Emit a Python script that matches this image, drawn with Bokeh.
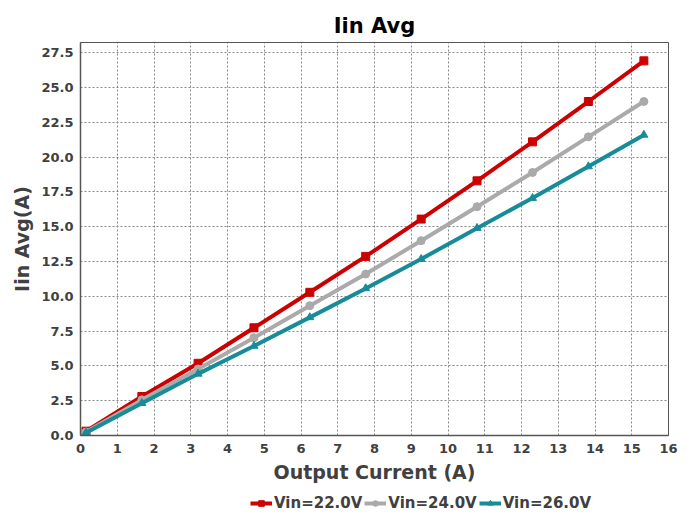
from bokeh.plotting import figure
from bokeh.layouts import column
from bokeh.models import Legend, LegendItem, Range1d, FixedTicker, NumeralTickFormatter
from bokeh.embed import file_html
from bokeh.resources import INLINE

x_current = [0.15, 1.67, 3.2, 4.72, 6.24, 7.76, 9.27, 10.79, 12.3, 13.82, 15.33]
vin22 = [0.31, 2.8, 5.19, 7.74, 10.29, 12.87, 15.55, 18.3, 21.1, 24.0, 26.92]
vin24 = [0.25, 2.56, 4.78, 7.02, 9.33, 11.6, 14.0, 16.44, 18.9, 21.46, 24.0]
vin26 = [0.2, 2.32, 4.43, 6.43, 8.49, 10.57, 12.68, 14.9, 17.06, 19.33, 21.6]
series_names = ["Vin=22.0V", "Vin=24.0V", "Vin=26.0V"]
x_ticks = list(range(0, 17))
y_ticks = [0, 2.5, 5, 7.5, 10, 12.5, 15, 17.5, 20, 22.5, 25, 27.5]

FONT = "DejaVu Sans"
TXT = "#404040"
colors = ["#CC0000", "#AAAAAA", "#178C99"]
markers = ["square", "circle", "triangle"]
series = [vin22, vin24, vin26]

p = figure(width=696, height=490, output_backend="svg", toolbar_location=None,
           x_range=Range1d(0, 16), y_range=Range1d(0, 28.24),
           min_border_left=80, min_border_right=28, min_border_top=42, min_border_bottom=55,
           title="Iin Avg")
p.title.align = "center"
p.title.text_font = FONT
p.title.text_font_size = "21px"
p.title.text_font_style = "bold"
p.title.text_color = "black"

p.xaxis.ticker = FixedTicker(ticks=x_ticks)
p.yaxis.ticker = FixedTicker(ticks=y_ticks)
p.yaxis.formatter = NumeralTickFormatter(format="0.0")
for ax in (p.xaxis, p.yaxis):
    ax.major_label_text_font = FONT
    ax.major_label_text_font_size = "13px"
    ax.major_label_text_font_style = "bold"
    ax.major_label_text_color = TXT
    ax.axis_label_text_font = FONT
    ax.axis_label_text_font_size = "19px"
    ax.axis_label_text_font_style = "bold"
    ax.axis_label_text_color = TXT
    ax.axis_line_color = "#555555"
    ax.axis_line_width = 1.5
    ax.major_tick_line_color = None
    ax.minor_tick_line_color = None
    ax.major_tick_out = 0
    ax.major_tick_in = 0
    ax.minor_tick_out = 0
    ax.major_label_standoff = 7
p.xaxis.major_label_standoff = 8
p.xaxis.axis_label_standoff = 5
p.xaxis.axis_label = "Output Current (A)"
p.yaxis.axis_label = "Iin Avg(A)"

p.outline_line_color = "#555555"
p.outline_line_width = 1
p.xgrid.grid_line_color = "#888888"
p.ygrid.grid_line_color = "#888888"
p.xgrid.grid_line_dash = "2 2"
p.ygrid.grid_line_dash = "2 2"
p.xgrid.ticker = FixedTicker(ticks=x_ticks)
p.ygrid.ticker = FixedTicker(ticks=y_ticks)

for ys, c, m in zip(series, colors, markers):
    p.line(x_current, ys, line_color=c, line_width=4)
    p.scatter(x_current, ys, marker=m, size=8, fill_color=c, line_color=c)

# Legend strip below the chart (series drawn outside its visible range; only the legend shows)
lg = figure(width=696, height=26, output_backend="svg", toolbar_location=None,
            x_range=Range1d(-100, -99), y_range=Range1d(-100, -99),
            x_axis_type=None, y_axis_type=None,
            min_border_left=0, min_border_right=0, min_border_top=0, min_border_bottom=0)
lg.outline_line_color = None
lg.xgrid.visible = False
lg.ygrid.visible = False
items = []
for ys, c, m, name in zip(series, colors, markers, series_names):
    l = lg.line(x_current, ys, line_color=c, line_width=4)
    s = lg.scatter(x_current, ys, marker=m, size=8, fill_color=c, line_color=c)
    items.append(LegendItem(label=name, renderers=[l, s]))

legend = Legend(items=items, orientation="horizontal", location=(170, 4),
                label_text_font=FONT, label_text_font_size="15px",
                label_text_font_style="bold", label_text_color=TXT,
                glyph_width=22, glyph_height=14, label_standoff=2, spacing=2,
                label_height=14,
                border_line_color=None, background_fill_alpha=0, margin=0, padding=0)
lg.add_layout(legend, "center")

layout = column(p, lg, spacing=0)
open("out.html", "w").write(file_html(layout, INLINE))
